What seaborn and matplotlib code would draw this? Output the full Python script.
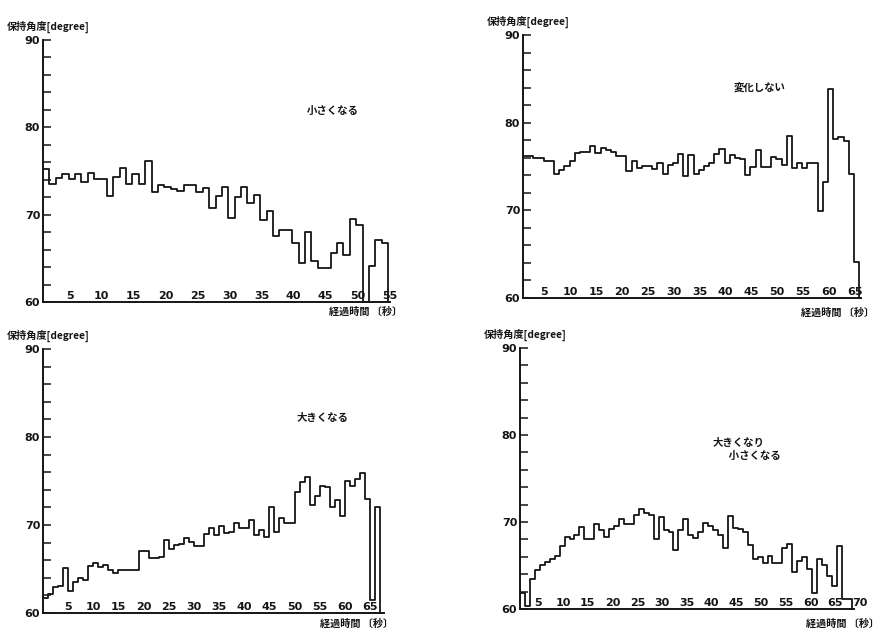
import numpy as np
import pandas as pd
import matplotlib
matplotlib.use("Agg")
import matplotlib.pyplot as plt
import seaborn as sns
from matplotlib.transforms import blended_transform_factory
from matplotlib.ticker import MultipleLocator

# ---------------- data (retention angle per second, degrees) ----------------
angle_smaller = [75.2, 73.5, 74.2, 74.6, 74.1, 74.6, 73.7, 74.8, 74.1, 74.1,
                 72.1, 74.3, 75.3, 73.5, 74.7, 73.5, 76.1, 72.6, 73.4, 73.2,
                 72.9, 72.7, 73.4, 73.4, 72.6, 73.1, 70.8, 72.1, 73.2, 69.6,
                 72.0, 73.2, 71.3, 72.2, 69.4, 70.4, 67.6, 68.2, 68.2, 66.7,
                 64.5, 68.0, 64.7, 63.9, 63.9, 65.6, 66.8, 65.4, 69.5, 68.8,
                 60.0, 64.1, 67.1, 66.7]

angle_unchanged = [76.2, 76.2, 76.0, 76.0, 75.6, 75.6, 74.2, 74.6, 75.1, 75.6,
                   76.5, 76.7, 76.7, 77.3, 76.5, 77.1, 76.9, 76.6, 76.2, 76.2,
                   74.5, 75.6, 74.8, 75.1, 75.1, 74.7, 75.4, 74.2, 75.2, 75.4,
                   76.4, 73.9, 76.3, 74.2, 74.6, 75.1, 75.4, 76.4, 77.0, 75.4,
                   76.3, 76.0, 75.8, 74.0, 74.9, 76.9, 75.0, 75.0, 76.1, 75.8,
                   75.2, 78.5, 74.8, 75.4, 74.8, 75.4, 75.4, 69.9, 73.2, 83.8,
                   78.1, 78.4, 77.9, 74.2, 64.1]

angle_larger = [61.7, 62.2, 63.0, 63.1, 65.1, 62.5, 63.5, 64.0, 63.8, 65.3,
                65.7, 65.2, 65.4, 64.9, 64.5, 64.9, 64.9, 64.9, 64.9, 67.0,
                67.0, 66.2, 66.2, 66.4, 68.3, 67.3, 67.7, 67.8, 68.5, 68.1,
                67.6, 67.6, 69.0, 69.7, 68.9, 69.9, 69.1, 69.2, 70.2, 69.7,
                69.7, 70.6, 68.9, 69.4, 68.6, 72.1, 69.2, 70.8, 70.2, 70.2,
                73.7, 74.9, 75.5, 72.3, 73.3, 74.4, 74.3, 72.0, 72.8, 71.0,
                75.0, 74.4, 75.2, 75.9, 72.9, 61.5, 72.1]

angle_up_down = [61.8, 60.3, 63.4, 64.5, 65.1, 65.4, 65.7, 66.1, 67.2, 68.3,
                 68.0, 68.5, 69.4, 68.0, 68.0, 69.8, 69.1, 68.3, 69.2, 69.5,
                 70.3, 69.8, 69.8, 70.8, 71.5, 71.0, 70.8, 68.0, 70.6, 69.1,
                 68.9, 66.8, 69.1, 70.3, 68.5, 68.2, 68.9, 69.9, 69.5, 69.1,
                 68.5, 67.0, 70.7, 69.3, 69.2, 68.9, 67.4, 65.7, 66.0, 65.3,
                 66.1, 65.3, 65.3, 67.0, 67.5, 64.2, 65.5, 66.0, 64.6, 61.8,
                 65.8, 65.1, 63.8, 62.7, 67.2, 61.1, 61.1]

series = [angle_smaller, angle_unchanged, angle_larger, angle_up_down]
notes = [["小さくなる"], ["変化しない"], ["大きくなる"], ["大きくなり", "  小さくなる"]]
x_tick_values = [list(range(5, 60, 5)), list(range(5, 70, 5)),
                 list(range(5, 70, 5)), list(range(5, 75, 5))]
y_title = "保持角度[degree]"
x_title = "経過時間 〔秒〕"
y_min, y_max = 60, 90

# ---------------- layout (pixels) ----------------
W, H = 884, 634
panels = [
    dict(left=43, top=40, bottom=302, xmax=54.3, pps=6.39, shift=-0.8,
         note_xy=[(333, 111)], xt=(366, 312)),
    dict(left=523, top=35, bottom=298, xmax=65.3, pps=5.17, shift=-0.85,
         note_xy=[(760, 88)], xt=(838, 313)),
    dict(left=43, top=349, bottom=613, xmax=67.7, pps=5.03, shift=0.0,
         note_xy=[(323, 418)], xt=(357, 624)),
    dict(left=520, top=348, bottom=609, xmax=67.4, pps=4.95, shift=-1.3,
         note_xy=[(739, 443), (752, 456)], xt=(843, 624)),
]

sns.set_theme(style="white")
plt.rcParams["font.family"] = ["Noto Sans CJK JP", "DejaVu Sans"]

fig = plt.figure(figsize=(W / 100, H / 100), dpi=100)
fig.patch.set_facecolor("white")

ink = "#151515"
num_font = dict(family=["Liberation Sans Narrow", "DejaVu Sans"], weight="bold")

for vals, p, note, xticks in zip(series, panels, notes, x_tick_values):
    width_px = p["xmax"] * p["pps"]
    ax = fig.add_axes([p["left"] / W, 1 - p["bottom"] / H,
                       width_px / W, (p["bottom"] - p["top"]) / H])
    n = len(vals)
    df = pd.DataFrame({"t": np.arange(n + 1), "angle": list(vals) + [y_min]})
    sns.lineplot(data=df, x="t", y="angle", ax=ax, drawstyle="steps-post",
                 color=ink, linewidth=1.3, estimator=None, sort=True)
    for ln in ax.lines:
        ln.set_clip_on(False)

    ax.set_xlim(0, p["xmax"])
    ax.set_ylim(y_min, y_max)
    ax.set_xlabel("")
    ax.set_ylabel("")
    ax.set_facecolor("none")
    for s in ["top", "right"]:
        ax.spines[s].set_visible(False)
    for s in ["left", "bottom"]:
        ax.spines[s].set_color(ink)
        ax.spines[s].set_linewidth(1.4)

    ax.yaxis.set_major_locator(MultipleLocator(10))
    ax.yaxis.set_minor_locator(MultipleLocator(2))
    ax.tick_params(axis="y", which="both", direction="in", length=5.5,
                   width=1.1, color=ink, left=True, pad=2)
    ax.set_yticks([60, 70, 80, 90])
    ax.set_yticklabels(["60", "70", "80", "90"], fontsize=8, color=ink,
                       **num_font)
    ax.set_xticks([])

    tr = blended_transform_factory(ax.transData, ax.transAxes)
    for v in xticks:
        ax.text(v + p["shift"], 0.004, str(v), transform=tr, ha="center",
                va="bottom", fontsize=8, color=ink, **num_font)

    for txt, (cx, cy) in zip(note, p["note_xy"]):
        fig.text(cx / W, 1 - cy / H, txt, ha="center", va="center",
                 fontsize=7.5, weight="bold", color=ink)

    fig.text((p["left"] - 36) / W, 1 - (p["top"] - 13) / H, y_title,
             ha="left", va="center", fontsize=7.3, weight="bold", color=ink)
    fig.text(p["xt"][0] / W, 1 - p["xt"][1] / H, x_title, ha="center",
             va="center", fontsize=7.3, weight="bold", color=ink)

fig.savefig("out.png", dpi=100, facecolor="white")
